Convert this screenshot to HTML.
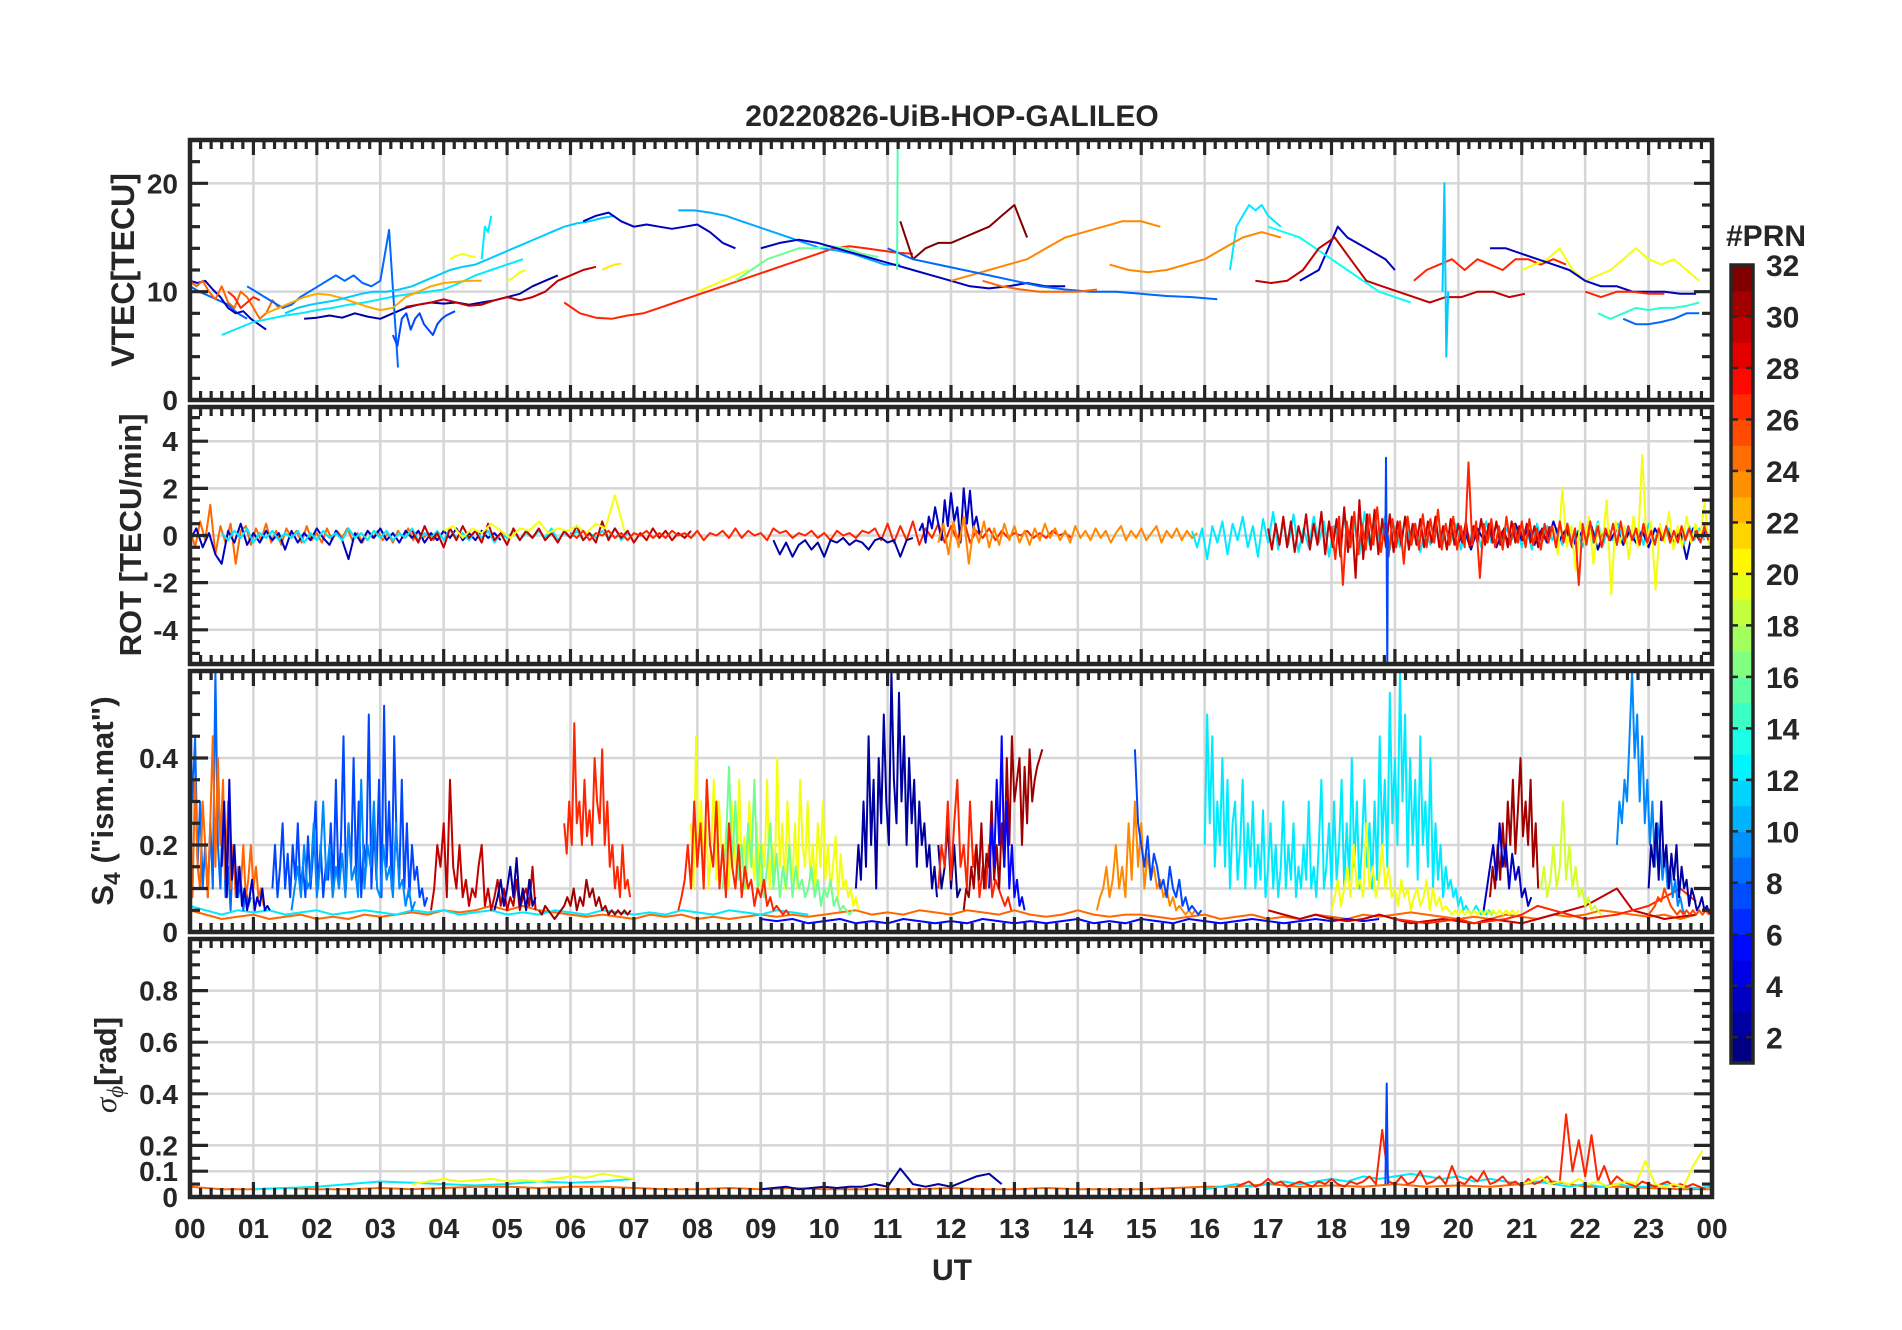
<!DOCTYPE html>
<html><head><meta charset="utf-8"><title>20220826-UiB-HOP-GALILEO</title>
<style>
html,body{margin:0;padding:0;background:#fff;}
svg{display:block;}
text{font-family:"Liberation Sans",Arial,sans-serif;font-weight:bold;fill:#262626;}
</style></head>
<body>
<svg id="chart" xmlns="http://www.w3.org/2000/svg" width="1902" height="1330" viewBox="0 0 1902 1330">
<rect x="0" y="0" width="1902" height="1330" fill="#fff"/>
<g id="grids"></g>
<g id="marks"></g>
<g id="frames"></g>
<text x="952" y="126" text-anchor="middle" font-size="30" style="font-family:'Liberation Sans Narrow','Liberation Sans',sans-serif;">20220826-UiB-HOP-GALILEO</text>
<text transform="translate(134,270) rotate(-90)" text-anchor="middle" font-size="32">VTEC[TECU]</text>
<text transform="translate(141,535) rotate(-90)" text-anchor="middle" font-size="31">ROT [TECU/min]</text>
<text transform="translate(113,801) rotate(-90)" text-anchor="middle" font-size="31">S<tspan font-size="23" dy="7">4</tspan><tspan dy="-7"> ("ism.mat")</tspan></text>
<text transform="translate(116,1065) rotate(-90)" text-anchor="middle" font-size="31"><tspan font-style="italic" font-weight="normal" style="font-family:'Liberation Serif',serif">σ</tspan><tspan font-size="23" dy="7" font-style="italic" font-weight="normal" style="font-family:'Liberation Serif',serif">ϕ</tspan><tspan dy="-7">[rad]</tspan></text>
<text x="952" y="1280" text-anchor="middle" font-size="30" style="font-family:'Liberation Sans Narrow','Liberation Sans',sans-serif;">UT</text>
<g id="cbar"></g>
<text x="1726" y="246" font-size="30">#PRN</text>
</svg>
<script>
// ---------- data ----------
const hourTicks = ['00','01','02','03','04','05','06','07','08','09','10','11','12','13','14','15','16','17','18','19','20','21','22','23','00'];
const vtecTicks = [0,10,20];
const rotTicks = [-4,-2,0,2,4];
const s4Ticks = [0,0.1,0.2,0.4];
const s4TickLabels = ['0','0.1','0.2','0.4'];
const sigTicks = [0,0.1,0.2,0.4,0.6,0.8];
const sigTickLabels = ['0','0.1','0.2','0.4','0.6','0.8'];
const prnTicks = [2,4,6,8,10,12,14,16,18,20,22,24,26,28,30,32];

const vtecSeries = [
{p:8,t:0,d:0.15,v:[10.5,10,9.6,9.2,8.8,8,7.5]},
{p:3,t:0,d:0.12,v:[11,10.8,11,10.2,9.5,8.5,8,8.2,7.5,7,6.5]},
{p:25,t:0,d:0.1,v:[11,10.5,11,10,9.3,10.5,9,8.5,10,9.5,8.5,7.5,8,9.2,8.5]},
{p:27,t:0.6,d:0.1,v:[10,9.5,8.5,9,9.5,9.2]},
{p:12,t:0.5,d:0.25,v:[6,6.6,7.2,7.5,7.8,8,8.3,8.5,8.8,9,9.3,9.6,9.8,10,10.2,10.8,11.5,12,12.5,13]},
{p:2,t:1.8,d:0.2,v:[7.5,7.6,7.8,7.6,8,7.7,7.5,8,8.5,8.8,9,8.9,9,8.8,9,9.2,9.5,9.8,10.5,11,11.5]},
{p:8,t:0.9,d:0.14,v:[10.5,10,9.5,9,8.5,8.8,9.5,10,10.5,11,11.5,11,11.5,10.8,10.5,11,15.7,3]},
{p:7,t:3.2,d:0.07,v:[6,5,7.5,8,6.5,7.5,8,7,6.5,6,7,7.5,7.8,8,8.2]},
{p:23,t:1.2,d:0.2,v:[8,8.5,9,9.5,9.8,9.7,9.4,9,8.6,8.3,8.5,9.5,10,10.5,10.8,10.9,11,11]},
{p:11,t:1.5,d:0.2,v:[8,8.5,8.8,9,9.2,9.5,9.8,10,10,10.2,10.5,11,11.5,12,12.3,12.5,13,13.5,14,14.5,15,15.5,16,16.3,16.5,16.8,17]},
{p:12,t:4.6,d:0.05,v:[13,16,15.5,17]},
{p:20,t:4.1,d:0.1,v:[13,13.3,13.5,13.3,13.2]},
{p:20,t:5,d:0.1,v:[11,11.3,11.8,12]},
{p:30,t:3.4,d:0.2,v:[8.6,8.8,9,9.3,9,8.7,8.8,9.2,9.5,9.2,9.5,10,11,11.5,12,12.3]},
{p:21,t:6.5,d:0.1,v:[12,12.3,12.5,12.6]},
{p:27,t:5.9,d:0.25,v:[9,8,7.6,7.5,7.8,8,8.5,9,9.5,10,10.5,11,11.5,12,12.5,13,13.5,14,14.2,14,13.8,13.6,13.5]},
{p:3,t:6.2,d:0.2,v:[16.5,17,17.3,16.5,16,16.2,16,15.8,16,16.2,15.5,14.5,14]},
{p:10,t:7.7,d:0.25,v:[17.5,17.5,17.3,17,16.5,16,15.5,15,14.5,14,13.8,13.5,13,12.5,12.5]},
{p:16,t:8.6,d:0.25,v:[11,12,13,13.5,14,14,14.2,14,13.5,13.2]},
{p:20,t:8,d:0.2,v:[10,10.5,11,11.5,12]},
{p:3,t:9,d:0.3,v:[14,14.5,14.8,14.5,14,13.5,13,12.5,12,11.5,11,10.5,10.3,10.5,10.8,10.5,10.5]},
{p:32,t:11.2,d:0.2,v:[16.5,13,14,14.5,14.5,15,15.5,16,17,18,15]},
{p:24,t:12,d:0.3,v:[11,11.5,12,12.5,13,14,15,15.5,16,16.5,16.5,16]},
{p:8,t:11,d:0.4,v:[14,13,12.5,12,11.5,11,10.5,10.2,10,10,9.8,9.6,9.5,9.3]},
{p:25,t:12.5,d:0.3,v:[11,10.5,10.2,10,10,10,10.2]},
{p:12,t:16.4,d:0.1,v:[12,16,17,18,17.5,18,17,16.5,16]},
{p:24,t:14.5,d:0.3,v:[12.5,12,11.8,12,12.5,13,14,15,15.5,15]},
{p:3,t:17.5,d:0.15,v:[11,11.5,12,14,16,15,14.5,14,13.5,13,12]},
{p:13,t:17,d:0.25,v:[16,15.5,15,14,13,12,11,10,9.5,9]},
{p:30,t:16.8,d:0.25,v:[11,10.8,11,12,14,15,13,11,10.5,10,9.5,9,9.5,9.5,10,10,9.5,9.8]},
{p:27,t:19.3,d:0.2,v:[11,12,12.5,13,12,13,12.5,12,13,13,12.5,13,12.5]},
{p:20,t:21,d:0.2,v:[12,12.5,13,14,12,11,11.5,12,13,14,13,12.5,13,12,11]},
{p:3,t:20.5,d:0.25,v:[14,14,13.5,13,12.5,12,11,10.5,10.5,10,10,10,9.8,9.8]},
{p:14,t:22.2,d:0.2,v:[8,7.5,8,8.5,8.3,8.5,8.5,8.7,9]},
{p:8,t:22.6,d:0.2,v:[7.5,7,7,7.2,7.5,8,8]},
{p:27,t:22,d:0.25,v:[10,9.5,10,10,9.8,9.8]},
{p:15,t:11.15,d:0.01,v:[12,24]},
{p:11,t:19.75,d:0.03,v:[10,20,4,10]}
];

const rotSeries = [
{p:25,t:0,d:0.08,v:[0.3,-0.5,0.6,-0.2,1.3,-0.8,0.4,-0.3,0.5,-1.2,0.2,0.4,-0.4,0.3,-0.2,0.5,-0.3,0.2,-0.4,0.3,-0.1,0.2,-0.3,0.4,-0.2,0.1,-0.3,0.3,-0.2,0.2,-0.1,0.3,-0.2,0.1,-0.3,0.2,-0.1,0.2,-0.2,0.1,-0.3,0.2,-0.1,0.3,-0.2,0.2,-0.1,0.1,-0.2,0.1]},
{p:3,t:0,d:0.1,v:[-0.2,0.3,-0.5,0.1,-0.8,-1.2,0.2,-0.3,0.5,-0.4,0.1,-0.3,0.2,-0.2,0.1,-0.6,0.2,-0.3,0.1,-0.2,0.3,-0.1,-0.4,0.2,-0.2,-1.0,0.1,-0.3,0.2,-0.1,0.3,-0.2,0.1,-0.3,0.2,-0.1,0.2,-0.3,0.1,-0.2,0.2,-0.1,0.3,-0.2,0.1,-0.2,0.2,-0.1,0.1,-0.2]},
{p:12,t:0.5,d:0.1,v:[0.1,-0.2,0.2,-0.1,0.3,-0.3,0.1,-0.1,0.2,-0.2,0.1,-0.1,0.2,-0.3,0.1,-0.2,0.2,-0.1,0.1,-0.2,0.3,-0.1,0.1,-0.2,0.2,-0.1,0.2,-0.2,0.1,-0.1,0.3,-0.2,0.1,-0.1,0.2,-0.2,0.3,-0.1,0.1,-0.2,0.2,-0.1,0.2,-0.3,0.1,-0.1,0.2,-0.2,0.1,-0.1,0.2,-0.1,0.3,-0.2,0.1,-0.1,0.2,-0.2,0.1,-0.1,0.2,-0.1,0.3,-0.2,0.1]},
{p:30,t:3.5,d:0.1,v:[0.2,-0.3,0.4,-0.2,0.1,-0.5,0.3,-0.2,0.4,-0.1,0.2,-0.3,0.5,-0.2,0.1,-0.4,0.3,-0.2,0.2,-0.1,0.3,-0.2,0.1,-0.3,0.2,-0.1,0.4,-0.2,0.1,-0.3,0.6,-0.2,0.3,-0.1,0.2,-0.3,0.1,-0.2,0.3,-0.1,0.2,-0.2,0.1,-0.1,0.2]},
{p:20,t:4,d:0.15,v:[0.2,0.4,-0.1,0.3,0.1,0.5,0.2,-0.1,0.3,0.2,0.6,0.1,0.3,0.2,0.4,0.1,0.5,0.3,1.7,0.2]},
{p:27,t:6,d:0.1,v:[0.1,-0.1,0.2,-0.2,0.1,0,0.2,-0.1,0.1,-0.2,0.1,0,0.2,-0.1,0.1,-0.1,0.2,0,0.1,-0.1,0.2,-0.2,0.1,0,0.2,-0.1,0.3,-0.1,0.2,0,0.1,-0.2,0.3,0.1,0.2,-0.1,0.1,0,0.2,-0.1,0.1,-0.2,0.2,0,0.1,-0.1,0.2,0.1,0.3,-0.2,0.5,-0.3,0.4,-0.2,0.6,-0.4,0.3,-0.1,0.5,-0.3,0.4,-0.2,0.7,-0.3,0.2,-0.1,0.3,-0.2,0.2,-0.1,0.1,0,0.2,-0.1,0.1,-0.1,0.2,0,0.1,-0.1]},
{p:2,t:9.2,d:0.1,v:[-0.2,-0.8,-0.3,-0.9,-0.4,-0.2,-0.6,-0.3,-0.9,-0.2,-0.3,-0.1,-0.4,-0.2,-0.3,-0.6,-0.2,-0.1,-0.3,-0.2,-0.9,-0.2,-0.1]},
{p:3,t:11.5,d:0.05,v:[0.2,0.5,-0.3,0.8,0.3,1.2,0.5,-0.2,1.5,0.4,1.8,0.6,1.2,-0.3,2.0,0.5,1.9,0.3,0.8,0.1,0.2]},
{p:24,t:11.8,d:0.08,v:[-0.3,0.5,-0.8,0.6,-0.5,0.8,-1.2,0.4,-0.3,0.6,-0.5,0.3,-0.4,0.5,-0.2,0.4,-0.3,0.2,-0.4,0.3,-0.2,0.5,-0.1,0.3,-0.2,0.2,-0.3,0.4,-0.1,0.2,-0.2,0.3,-0.1,0.2,-0.3,0.1,0.4,-0.2,0.2,-0.1,0.3,-0.2,0.1,0.4,-0.3,0.2,-0.1,0.3,-0.2,0.2,-0.1,0.1]},
{p:12,t:15.8,d:0.08,v:[0.2,-0.5,0.3,-1.0,0.4,-0.3,0.6,-0.8,0.5,-0.2,0.8,-0.5,0.4,-0.9,0.7,-0.3,1.0,-0.6,0.5,-0.4,0.9,-0.7,0.3,-0.5,0.8,-0.3,0.6,-0.9,0.4,-0.2,0.7,-0.5,0.5,-0.8,1.0,-0.4,0.6,-0.3,0.8,-0.6,0.4,-0.5,0.7,-0.3,0.5,-0.7,0.3,-0.4,0.6,-0.5,0.4,-0.3,0.5,-0.6,0.3,-0.2,0.4,-0.5,0.6,-0.3,0.5,-0.4,0.3,-0.2,0.4,-0.5,0.3,-0.6,0.5,-0.3,0.4,-0.2,0.3,-0.4,0.5,-0.3,0.2,-0.5,0.4,-0.3,0.6,-0.4,0.3,-0.2,0.5,-0.3,0.4,-0.2,0.3,-0.4,0.5,-0.3,0.2,-0.2,0.3,-0.4,0.2,-0.3,0.4,-0.2,0.3,-0.2]},
{p:3,t:20,d:0.1,v:[-0.3,0.2,-0.6,0.3,-0.2,0.4,-0.5,0.2,-0.3,0.5,-0.2,0.3,-0.4,0.2,-0.3,0.6,-0.2,0.3,-0.5,0.2,-0.3,0.4,-0.6,0.2,-0.2,0.3,-0.4,0.2,-0.3,0.2,-0.5,0.3,-0.2,0.2,-0.3,0.2,-1.0,0.3,-0.2,0.2]},
{p:20,t:21.5,d:0.07,v:[0.3,-0.8,2.0,-0.5,0.4,-1.5,0.6,-0.3,0.8,-1.2,0.5,-0.4,1.5,-2.5,0.6,-0.3,0.4,-1.0,0.8,-0.5,3.4,-0.4,0.6,-2.3,0.5,-0.3,1.0,-0.6,0.4,-0.5,0.8,-0.3,0.5,-0.2,1.4,-0.4]},
{p:30,t:17,d:0.06,v:[0.3,-0.6,0.5,-0.4,0.8,-0.5,0.6,-0.7,0.4,-0.3,0.9,-0.6,0.5,-0.4,1.0,-0.8,0.6,-0.5,0.7,-0.9,1.2,-0.7,0.8,-1.8,1.5,-1.0,0.9,-0.6,1.1,-0.8,0.7,-0.5,0.9,-0.7,0.6,-0.4,0.8,-0.6,0.5,-0.4,0.7,-0.5,0.6,-0.3,0.8,-0.5,0.4,-0.6,0.7,-0.4,0.5,-0.3,0.6,-0.5,0.4,-0.3,0.7,-0.4,0.5,-0.3,0.6,-0.4,0.3,-0.5,0.6,-0.3,0.4,-0.2,0.5,-0.3,0.4,-0.5,0.3,-0.2,0.4]},
{p:27,t:18,d:0.06,v:[0.4,-1.0,0.8,-2.1,0.6,-0.5,1.0,-0.8,0.5,-0.6,0.9,-0.4,1.2,-0.7,0.5,-0.9,0.7,-0.5,0.6,-1.2,0.8,-0.4,0.5,-0.6,0.9,-0.5,0.7,-0.3,1.1,-0.6,0.5,-0.4,0.8,-0.6,0.4,-0.5,3.1,-0.4,0.6,-1.8,0.5,-0.3,0.7,-0.5,0.4,-0.6,0.8,-0.4,0.5,-0.3,0.6,-0.5,0.7,-0.4,0.3,-0.6,0.5,-0.3,0.4,-0.5,0.6,-0.3,0.5,-0.4,0.3,-2.1,0.5,-0.4,0.6,-0.3,0.4,-0.5,0.3,-0.2,0.5,-0.4,0.6,-0.3,0.4,-0.2,0.3,-0.4,0.5,-0.3,0.2,-0.4,0.3,-0.2,0.4,-0.3,0.2,-0.3,0.4,-0.2,0.3,-0.2,0.2,-0.3,0.4,-0.2]},
{p:7,t:18.85,d:0.01,v:[0,3.3,-1,-5.5,0]}
];

const s4Series = [
{p:25,t:0,d:0.25,v:[0.05,0.04,0.03,0.035,0.04,0.03,0.035,0.04,0.03,0.035,0.03,0.04,0.035,0.04,0.045,0.04,0.05,0.045,0.05,0.06,0.05,0.06,0.05,0.045,0.04,0.035,0.04,0.035,0.03,0.04,0.035,0.04,0.03,0.035,0.03,0.035,0.04,0.035,0.04,0.035,0.04,0.045,0.05,0.04,0.045,0.04,0.05,0.045,0.04,0.05,0.045,0.04,0.05,0.04,0.035,0.04,0.05,0.04,0.035,0.04,0.04,0.035,0.03,0.035,0.04,0.03,0.035,0.04,0.03,0.035,0.03,0.04,0.035,0.03,0.04,0.035,0.04,0.045,0.04,0.035,0.03,0.035,0.03,0.04,0.035,0.03,0.04,0.035,0.04,0.05,0.045,0.04,0.035,0.04,0.03,0.04]},
{p:12,t:0,d:0.25,v:[0.06,0.05,0.04,0.05,0.045,0.05,0.04,0.045,0.05,0.04,0.045,0.05,0.045,0.04,0.05,0.045,0.05,0.04,0.045,0.05,0.04,0.045,0.04,0.05,0.045,0.04,0.05,0.045,0.04,0.045,0.04,0.05,0.045,0.04,0.05,0.045,0.04,0.05,0.045,0.04]},
{p:5,t:9,d:0.25,v:[0.03,0.025,0.03,0.02,0.025,0.03,0.02,0.025,0.02,0.03,0.025,0.02,0.025,0.02,0.03,0.025,0.02,0.025,0.02,0.025,0.03,0.02,0.025,0.02,0.03,0.025,0.02,0.03,0.025,0.02,0.025,0.03,0.025,0.02,0.025,0.03,0.025,0.03,0.025,0.03]},
{p:30,t:17,d:0.25,v:[0.05,0.04,0.03,0.04,0.03,0.025,0.03,0.04,0.03,0.02,0.025,0.03,0.025,0.02,0.03,0.025,0.02,0.03,0.04,0.05,0.06,0.08,0.1,0.05,0.04,0.03,0.035,0.04]},
{p:27,t:19,d:0.25,v:[0.03,0.025,0.02,0.025,0.03,0.02,0.025,0.03,0.04,0.06,0.05,0.04,0.03,0.035,0.04,0.05,0.06,0.08,0.1,0.07]},
{p:8,t:0,d:0.04,v:[0.5,0.3,0.45,0.15,0.3,0.1,0.2,0.08,0.25,0.1,0.6,0.2,0.1,0.3,0.08,0.15,0.05,0.2,0.1,0.08,0.12,0.05,0.1,0.06,0.08]},
{p:25,t:0,d:0.04,v:[0.2,0.08,0.35,0.15,0.1,0.3,0.2,0.08,0.25,0.45,0.15,0.4,0.2,0.35,0.12,0.3,0.1,0.2,0.08,0.15,0.1,0.2,0.08,0.12,0.2,0.1,0.15,0.08,0.1,0.06]},
{p:3,t:0.5,d:0.04,v:[0.15,0.3,0.08,0.35,0.12,0.2,0.08,0.15,0.06,0.1,0.05,0.08,0.12,0.05,0.08,0.06,0.1,0.05,0.06,0.05]},
{p:7,t:1.3,d:0.04,v:[0.1,0.2,0.08,0.15,0.25,0.1,0.18,0.08,0.2,0.12,0.25,0.1,0.15,0.08,0.22,0.1,0.18,0.3,0.1,0.2,0.08,0.15,0.12,0.25,0.1,0.35,0.12,0.2,0.45,0.1,0.25,0.15,0.4,0.12,0.3,0.08,0.2,0.15,0.5,0.1,0.25,0.12,0.35,0.08,0.52,0.15,0.3,0.1,0.45,0.2,0.12,0.35,0.1,0.25,0.08,0.2,0.12,0.15,0.08,0.1,0.06,0.08]},
{p:9,t:1.6,d:0.05,v:[0.05,0.1,0.15,0.08,0.2,0.1,0.12,0.25,0.08,0.15,0.3,0.12,0.2,0.08,0.15,0.1,0.18,0.08,0.25,0.12,0.15,0.08,0.35,0.1,0.2,0.15,0.3,0.1,0.08,0.2,0.12,0.15,0.08,0.25,0.1,0.12,0.06,0.1,0.05,0.07]},
{p:30,t:3.8,d:0.05,v:[0.05,0.1,0.2,0.15,0.25,0.08,0.35,0.15,0.1,0.2,0.08,0.12,0.06,0.1,0.08,0.15,0.2,0.06,0.1,0.05,0.08,0.12,0.06,0.1,0.05,0.08,0.06,0.12,0.05,0.08,0.1,0.06,0.15,0.05]},
{p:2,t:4.8,d:0.05,v:[0.05,0.08,0.12,0.06,0.1,0.15,0.08,0.17,0.06,0.1,0.05,0.12,0.06,0.08]},
{p:31,t:5.5,d:0.05,v:[0.05,0.04,0.06,0.05,0.04,0.03,0.04,0.05,0.06,0.08,0.06,0.1,0.05,0.08,0.06,0.12,0.08,0.1,0.06,0.08,0.05,0.06,0.04,0.05,0.04,0.05,0.04,0.05,0.04,0.05]},
{p:27,t:5.9,d:0.04,v:[0.25,0.18,0.3,0.2,0.48,0.25,0.3,0.2,0.35,0.22,0.28,0.2,0.4,0.3,0.25,0.42,0.2,0.3,0.15,0.2,0.1,0.15,0.08,0.2,0.1,0.12,0.08]},
{p:20,t:7.9,d:0.04,v:[0.25,0.1,0.45,0.2,0.3,0.15,0.25,0.1,0.2,0.35,0.12,0.3,0.2,0.15,0.25,0.1,0.3,0.2,0.12,0.35,0.15,0.22,0.1,0.3,0.18,0.12,0.25,0.1,0.2,0.15,0.35,0.1,0.2,0.12,0.4,0.15,0.25,0.1,0.3,0.18,0.12,0.25,0.1,0.35,0.2,0.15,0.3,0.12,0.2,0.1,0.25,0.15,0.3,0.12,0.2,0.1,0.15,0.22,0.08,0.18,0.1,0.12,0.08,0.1,0.06,0.08,0.05]},
{p:16,t:8.4,d:0.05,v:[0.1,0.2,0.38,0.15,0.3,0.12,0.2,0.1,0.25,0.15,0.35,0.1,0.2,0.08,0.15,0.25,0.1,0.18,0.08,0.15,0.1,0.2,0.08,0.15,0.1,0.12,0.08,0.1,0.15,0.08,0.12,0.06,0.1,0.08,0.12,0.06,0.08,0.05,0.06,0.05,0.04,0.05]},
{p:27,t:7.7,d:0.05,v:[0.05,0.08,0.12,0.2,0.1,0.3,0.15,0.25,0.1,0.35,0.2,0.15,0.3,0.1,0.2,0.08,0.25,0.15,0.1,0.2,0.08,0.15,0.1,0.12,0.06,0.1,0.08,0.12,0.06,0.08,0.05,0.06,0.05,0.04,0.05,0.04]},
{p:2,t:10.5,d:0.04,v:[0.1,0.2,0.12,0.3,0.15,0.45,0.2,0.35,0.1,0.4,0.25,0.5,0.3,0.2,0.6,0.35,0.25,0.55,0.3,0.45,0.2,0.4,0.25,0.35,0.15,0.3,0.2,0.25,0.15,0.2,0.1,0.15,0.08]},
{p:1,t:11.8,d:0.05,v:[0.2,0.1,0.15,0.25,0.1,0.2,0.08,0.1]},
{p:27,t:11.8,d:0.05,v:[0.1,0.2,0.15,0.3,0.12,0.25,0.35,0.15,0.2,0.1,0.3,0.15,0.2,0.08,0.15,0.1,0.2,0.08,0.12,0.1,0.08,0.06,0.08,0.05]},
{p:31,t:12.2,d:0.04,v:[0.05,0.1,0.08,0.15,0.1,0.2,0.12,0.25,0.1,0.18,0.15,0.3,0.12,0.2,0.1,0.25,0.15,0.4,0.2,0.45,0.3,0.35,0.4,0.2,0.38,0.25,0.42,0.3,0.35,0.38,0.4,0.42]},
{p:5,t:12.6,d:0.04,v:[0.1,0.25,0.15,0.35,0.2,0.45,0.15,0.3,0.1,0.2,0.08,0.12,0.06,0.08,0.05]},
{p:24,t:14.3,d:0.05,v:[0.05,0.08,0.1,0.15,0.08,0.12,0.2,0.1,0.15,0.08,0.25,0.12,0.3,0.15,0.25,0.1,0.18,0.12,0.15,0.1,0.12,0.08,0.1,0.06,0.08,0.05,0.06,0.05,0.04,0.05,0.04,0.05]},
{p:7,t:14.9,d:0.05,v:[0.42,0.25,0.2,0.15,0.22,0.12,0.18,0.15,0.1,0.12,0.08,0.15,0.1,0.08,0.12,0.06,0.08,0.05,0.06,0.05,0.04,0.05]},
{p:12,t:16,d:0.04,v:[0.2,0.5,0.25,0.45,0.15,0.3,0.2,0.4,0.15,0.35,0.1,0.25,0.3,0.12,0.2,0.35,0.1,0.25,0.15,0.3,0.1,0.2,0.12,0.28,0.08,0.15,0.25,0.1,0.2,0.08,0.15,0.3,0.1,0.2,0.12,0.25,0.08,0.15,0.1,0.2,0.12,0.3,0.1,0.15,0.08,0.2,0.35,0.1,0.15,0.25,0.1,0.3,0.12,0.2,0.35,0.1,0.25,0.12,0.4,0.15,0.3,0.1,0.2,0.35,0.15,0.25,0.1,0.3,0.12,0.45,0.2,0.35,0.15,0.55,0.25,0.4,0.2,0.6,0.3,0.5,0.15,0.4,0.2,0.35,0.12,0.45,0.2,0.3,0.15,0.4,0.1,0.25,0.12,0.2,0.08,0.15,0.1,0.12,0.08,0.1,0.06,0.08,0.05,0.06,0.05,0.04,0.05,0.06,0.05,0.04,0.05,0.04,0.05,0.04,0.05]},
{p:20,t:18,d:0.05,v:[0.05,0.08,0.12,0.06,0.1,0.15,0.08,0.2,0.1,0.12,0.08,0.25,0.1,0.15,0.08,0.12,0.2,0.1,0.15,0.08,0.1,0.06,0.12,0.08,0.1,0.05,0.08,0.1,0.06,0.08,0.12,0.05,0.1,0.06,0.08,0.05,0.06,0.05,0.04,0.05,0.04,0.05,0.04,0.05,0.04,0.05,0.04,0.05,0.04,0.05,0.04,0.05,0.04,0.05,0.04,0.05,0.04,0.05,0.04,0.05]},
{p:31,t:20.5,d:0.04,v:[0.08,0.15,0.1,0.2,0.12,0.25,0.15,0.3,0.2,0.35,0.18,0.28,0.4,0.22,0.3,0.2,0.35,0.15,0.25,0.1]},
{p:3,t:20.4,d:0.05,v:[0.05,0.1,0.15,0.2,0.12,0.25,0.15,0.2,0.1,0.18,0.12,0.15,0.08,0.1,0.06,0.08]},
{p:19,t:21.3,d:0.05,v:[0.1,0.15,0.08,0.12,0.2,0.1,0.15,0.3,0.12,0.2,0.1,0.15,0.08,0.1,0.06,0.08,0.05,0.06,0.05,0.04]},
{p:9,t:22.5,d:0.04,v:[0.2,0.3,0.25,0.35,0.3,0.45,0.6,0.4,0.5,0.3,0.45,0.25,0.35,0.2,0.3,0.15,0.25,0.2,0.12,0.18,0.1,0.15,0.08,0.12,0.06,0.08,0.05,0.04]},
{p:2,t:23,d:0.04,v:[0.1,0.2,0.15,0.25,0.12,0.3,0.15,0.2,0.1,0.18,0.12,0.2,0.08,0.15,0.1,0.12,0.06,0.1,0.08,0.05,0.06,0.08,0.05,0.06,0.04]},
{p:26,t:23,d:0.05,v:[0.04,0.05,0.06,0.08,0.07,0.1,0.08,0.06,0.05,0.04,0.05,0.04,0.05,0.04,0.05,0.04,0.05,0.04,0.05,0.04]}
];

const sigSeries = [
{p:25,t:0,d:0.5,v:[0.04,0.03,0.03,0.035,0.03,0.03,0.035,0.03,0.035,0.04,0.04,0.035,0.04,0.04,0.035,0.03,0.03,0.035,0.03,0.035,0.03,0.03,0.03,0.03,0.035,0.03,0.03,0.035,0.03,0.03,0.03,0.035,0.04,0.04,0.05,0.04,0.045,0.04,0.05,0.04,0.045,0.04,0.05,0.06,0.04,0.04,0.035,0.03,0.03]},
{p:12,t:1,d:0.5,v:[0.03,0.035,0.04,0.05,0.06,0.055,0.05,0.045,0.05,0.06,0.055,0.06,0.07]},
{p:20,t:3.5,d:0.25,v:[0.05,0.06,0.07,0.06,0.065,0.07,0.06,0.065,0.06,0.07,0.08,0.075,0.09,0.08,0.07]},
{p:2,t:9,d:0.2,v:[0.03,0.035,0.04,0.03,0.035,0.04,0.035,0.04,0.04,0.05,0.04,0.11,0.05,0.04,0.05,0.04,0.06,0.08,0.09,0.05]},
{p:12,t:16,d:0.25,v:[0.03,0.04,0.05,0.04,0.05,0.06,0.05,0.06,0.07,0.06,0.08,0.07,0.08,0.09,0.08,0.07,0.08,0.06,0.07,0.06,0.05,0.06,0.05,0.04,0.05,0.04,0.05,0.04,0.04,0.05,0.04,0.035,0.04]},
{p:27,t:16.5,d:0.1,v:[0.04,0.05,0.06,0.04,0.05,0.07,0.05,0.06,0.04,0.05,0.06,0.05,0.04,0.06,0.05,0.07,0.05,0.04,0.06,0.05,0.06,0.08,0.05,0.26,0.06,0.05,0.08,0.05,0.06,0.1,0.05,0.06,0.08,0.05,0.12,0.06,0.05,0.08,0.06,0.1,0.05,0.06,0.08,0.05,0.06,0.04,0.07,0.05,0.06,0.08,0.05,0.06,0.32,0.1,0.22,0.08,0.24,0.06,0.12,0.05,0.08,0.06,0.05,0.04,0.06,0.05,0.04,0.05,0.06,0.04,0.05,0.04,0.05,0.04,0.03]},
{p:7,t:18.85,d:0.02,v:[0.05,0.44,0.05]},
{p:20,t:21,d:0.15,v:[0.05,0.06,0.08,0.05,0.06,0.05,0.07,0.05,0.06,0.04,0.05,0.06,0.05,0.14,0.05,0.04,0.05,0.04,0.12,0.18]}
];

// ---------- layout ----------
const X0 = 190, X1 = 1712;
const panels = [
 {name:'vtec', y0:140, y1:400, min:0, max:24, ticks:vtecTicks, labels:vtecTicks.map(String), minor:2, series:vtecSeries},
 {name:'rot', y0:407, y1:664, min:-5.45, max:5.45, ticks:rotTicks, labels:rotTicks.map(String), minor:0.5, series:rotSeries},
 {name:'s4', y0:671, y1:932, min:0, max:0.6, ticks:s4Ticks, labels:s4TickLabels, minor:0.05, series:s4Series},
 {name:'sigma', y0:939, y1:1197, min:0, max:1, ticks:sigTicks, labels:sigTickLabels, minor:0.05, series:sigSeries}
];
const NS='http://www.w3.org/2000/svg';
function el(tag, attrs, parent){const e=document.createElementNS(NS,tag);for(const k in attrs)e.setAttribute(k,attrs[k]);parent.appendChild(e);return e;}
function xScale(h){return X0 + (X1-X0)*h/24;}
function yScale(p,v){return p.y1 - (p.y1-p.y0)*(v-p.min)/(p.max-p.min);}
function clamp(a){return Math.max(0,Math.min(1,a));}
function jet(x){return 'rgb('+Math.round(255*clamp(1.5-Math.abs(4*x-3)))+','+Math.round(255*clamp(1.5-Math.abs(4*x-2)))+','+Math.round(255*clamp(1.5-Math.abs(4*x-1)))+')';}
function prnColor(p){return jet((p-1)/31);}

const grids=document.getElementById('grids'), marks=document.getElementById('marks'), frames=document.getElementById('frames');
const defs=el('defs',{},marks);

panels.forEach((p,pi)=>{
  for(let h=1;h<24;h++){
    const g=el('line',{x1:xScale(h),x2:xScale(h),y1:p.y0,y2:p.y1,stroke:'#d6d6d6','stroke-width':2.5},grids);
    
    
  }
  p.ticks.forEach(t=>{
    if(t===p.min) return;
    const g=el('line',{x1:X0,x2:X1,y1:yScale(p,t),y2:yScale(p,t),stroke:'#d6d6d6','stroke-width':2.5},grids);
    
    
  });
  const cp=el('clipPath',{id:'clip'+pi},defs);
  el('rect',{x:X0,y:p.y0,width:X1-X0,height:p.y1-p.y0},cp);
  const sg=el('g',{'clip-path':'url(#clip'+pi+')'},marks);
  
  
  p.series.forEach(s=>{
    const pts=s.v.map((v,i)=>xScale(s.t+i*s.d).toFixed(1)+','+yScale(p,v).toFixed(1)).join(' ');
    const pl=el('polyline',{points:pts,fill:'none',stroke:prnColor(s.p),'stroke-width':2,'stroke-linejoin':'round'},sg);
    
    
  });
  const fr=el('rect',{x:X0,y:p.y0,width:X1-X0,height:p.y1-p.y0,fill:'none',stroke:'#262626','stroke-width':4.5},frames);
  
  
  for(let m=0;m<=144;m++){
    const x=xScale(m/6), L=(m%6===0)?15:9;
    el('line',{x1:x,x2:x,y1:p.y0,y2:p.y0+L,stroke:'#262626','stroke-width':3.2},frames);
    el('line',{x1:x,x2:x,y1:p.y1,y2:p.y1-L,stroke:'#262626','stroke-width':3.2},frames);
  }
  const start=Math.ceil(p.min/p.minor-1e-9);
  for(let k=start;k*p.minor<=p.max+1e-9;k++){
    const v=k*p.minor, y=yScale(p,v);
    const major=p.ticks.some(t=>Math.abs(t-v)<1e-9);
    const L=major?18:10;
    el('line',{x1:X0,x2:X0+L,y1:y,y2:y,stroke:'#262626','stroke-width':3.2},frames);
    el('line',{x1:X1,x2:X1-L,y1:y,y2:y,stroke:'#262626','stroke-width':3.2},frames);
  }
  p.ticks.forEach((t,i)=>{
    const tx=el('text',{x:178,y:yScale(p,t)+10,'text-anchor':'end','font-size':28},frames);
    tx.textContent=p.labels[i];
    
    
  });
});
hourTicks.forEach((lab,i)=>{
  const tx=el('text',{x:xScale(i),y:1238,'text-anchor':'middle','font-size':28,style:"font-family:'Liberation Sans Narrow','Liberation Sans',sans-serif"},frames);
  tx.textContent=lab;
  
  
});
const cb=document.getElementById('cbar');
const CB={x0:1731,x1:1753,y0:265,y1:1063,min:1,max:32};
function cbY(v){return CB.y1-(CB.y1-CB.y0)*(v-CB.min)/(CB.max-CB.min);}
for(let k=1;k<32;k++){
  const r=el('rect',{x:CB.x0,y:cbY(k+1),width:CB.x1-CB.x0,height:cbY(k)-cbY(k+1)+0.6,fill:jet((k-1)/30)},cb);
  
  
}
el('rect',{x:CB.x0,y:CB.y0,width:CB.x1-CB.x0,height:CB.y1-CB.y0,fill:'none',stroke:'#262626','stroke-width':3.5},cb);
prnTicks.forEach(t=>{
  const y=cbY(t);
  el('line',{x1:CB.x1,x2:CB.x1-7,y1:y,y2:y,stroke:'#262626','stroke-width':2.5},cb);
  el('line',{x1:CB.x0,x2:CB.x0+7,y1:y,y2:y,stroke:'#262626','stroke-width':2.5},cb);
  const tx=el('text',{x:1766,y:y+11,'font-size':30},cb);
  tx.textContent=String(t);
  
  
});
</script>
</body></html>
